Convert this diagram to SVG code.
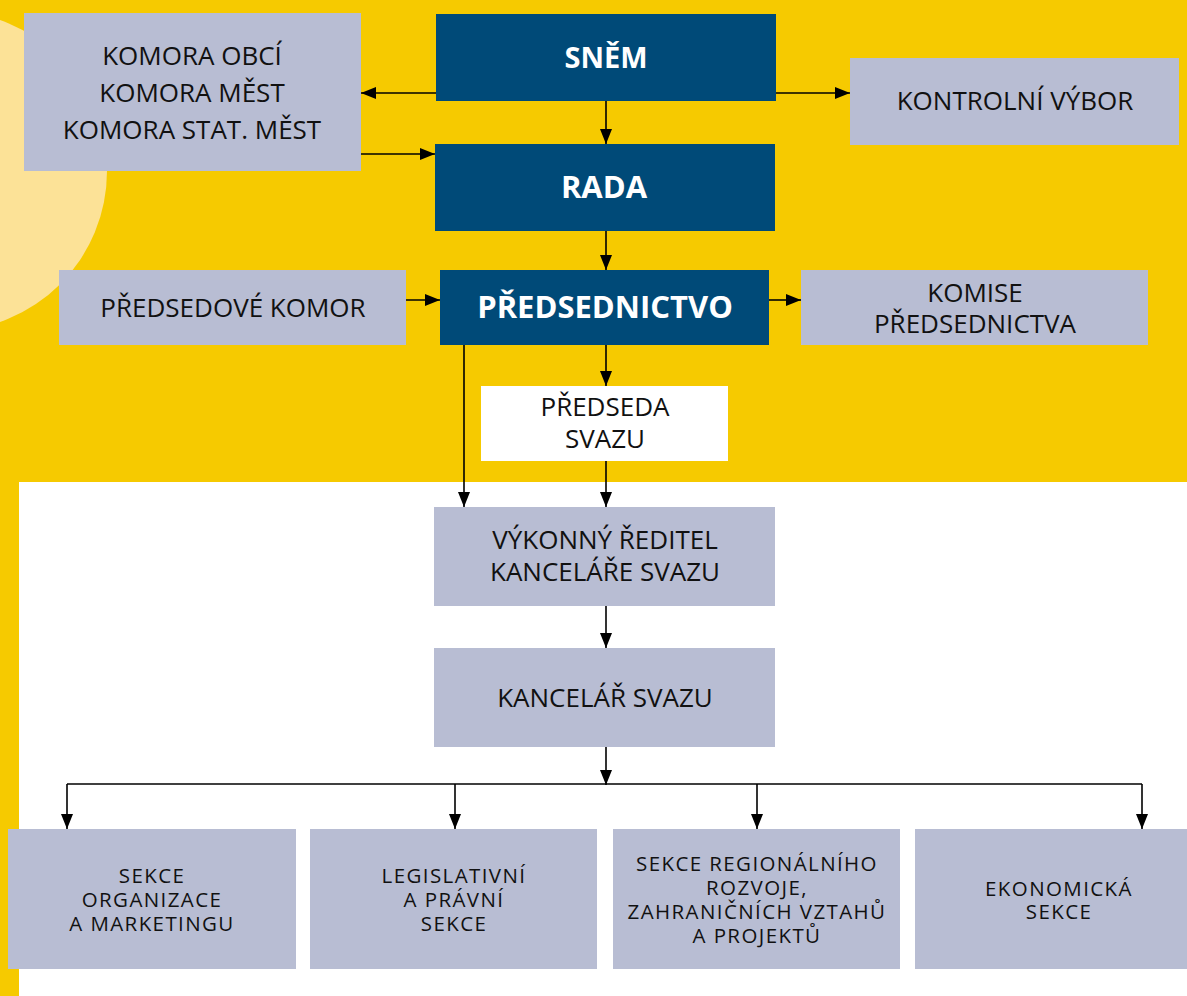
<svg xmlns="http://www.w3.org/2000/svg" width="1187" height="996" viewBox="0 0 1187 996">
<style>
.box{fill:#B8BDD3}
.dark{fill:#004A78}
.wbox{fill:#FFFFFF}
.t{font-family:"Open Sans","Liberation Sans",sans-serif;font-size:26px;fill:#111;text-anchor:middle}
.b{font-family:"Open Sans","Liberation Sans",sans-serif;font-size:30px;font-weight:bold;fill:#FFFFFF;text-anchor:middle}
.s{font-family:"Open Sans","Liberation Sans",sans-serif;font-size:20.5px;letter-spacing:1.4px;fill:#111;text-anchor:middle}
.c{stroke:#000;stroke-width:1.6;fill:none}
</style>
<defs>
<marker id="ah" markerUnits="userSpaceOnUse" markerWidth="15" markerHeight="12" refX="15" refY="6" orient="auto">
<path d="M0,0 L15,6 L0,12 z" fill="#000"/>
</marker>
</defs>
<rect x="0" y="0" width="1187" height="996" fill="#F6CA00"/>
<circle cx="-53" cy="171" r="160" fill="#FCE297"/>
<rect x="19" y="482" width="1168" height="514" fill="#FFFFFF"/>

<g id="komory"><rect class="box" x="24" y="13" width="337" height="158"/>
<text class="t" x="192" y="65">KOMORA OBCÍ</text>
<text class="t" x="192" y="102">KOMORA MĚST</text>
<text class="t" x="192" y="139">KOMORA STAT. MĚST</text></g>

<g id="snem"><rect class="dark" x="436" y="14" width="340" height="87"/>
<text class="b" x="606" y="68" style="font-size:29px">SNĚM</text></g>

<g id="kontrolni"><rect class="box" x="850" y="58" width="329" height="87"/>
<text class="t" x="1015" y="110">KONTROLNÍ VÝBOR</text></g>

<g id="rada"><rect class="dark" x="435" y="144" width="340" height="87"/>
<text class="b" x="604" y="198" style="font-size:31px">RADA</text></g>

<g id="predsedove"><rect class="box" x="59" y="270" width="347" height="75"/>
<text class="t" x="233" y="317">PŘEDSEDOVÉ KOMOR</text></g>

<g id="predsednictvo"><rect class="dark" x="440" y="270" width="329" height="75"/>
<text class="b" x="605" y="318" style="font-size:31px">PŘEDSEDNICTVO</text></g>

<g id="komise"><rect class="box" x="801" y="270" width="347" height="75"/>
<text class="t" x="975" y="302">KOMISE</text>
<text class="t" x="975" y="333">PŘEDSEDNICTVA</text></g>

<g id="predseda"><rect class="wbox" x="481" y="386" width="247" height="75"/>
<text class="t" x="605" y="416">PŘEDSEDA</text>
<text class="t" x="605" y="448">SVAZU</text></g>

<g id="vykonny"><rect class="box" x="434" y="507" width="341" height="99"/>
<text class="t" x="605" y="549">VÝKONNÝ ŘEDITEL</text>
<text class="t" x="605" y="581">KANCELÁŘE SVAZU</text></g>

<g id="kancelar"><rect class="box" x="434" y="648" width="341" height="99"/>
<text class="t" x="605" y="707">KANCELÁŘ SVAZU</text></g>

<g id="sekce1"><rect class="box" x="8" y="829" width="288" height="140"/>
<text class="s" x="152" y="883">SEKCE</text>
<text class="s" x="152" y="907">ORGANIZACE</text>
<text class="s" x="152" y="931">A MARKETINGU</text></g>

<g id="sekce2"><rect class="box" x="310" y="829" width="287" height="140"/>
<text class="s" x="454" y="883">LEGISLATIVNÍ</text>
<text class="s" x="454" y="907">A PRÁVNÍ</text>
<text class="s" x="454" y="931">SEKCE</text></g>

<g id="sekce3"><rect class="box" x="613" y="829" width="287" height="140"/>
<text class="s" x="757" y="871">SEKCE REGIONÁLNÍHO</text>
<text class="s" x="757" y="895">ROZVOJE,</text>
<text class="s" x="757" y="919">ZAHRANIČNÍCH VZTAHŮ</text>
<text class="s" x="757" y="943">A PROJEKTŮ</text></g>

<g id="sekce4"><rect class="box" x="915" y="829" width="272" height="140"/>
<text class="s" x="1059" y="896">EKONOMICKÁ</text>
<text class="s" x="1059" y="919">SEKCE</text></g>

<g id="connectors">
<line class="c" x1="436" y1="93" x2="361" y2="93" marker-end="url(#ah)"/>
<line class="c" x1="776" y1="93" x2="850" y2="93" marker-end="url(#ah)"/>
<line class="c" x1="361" y1="154" x2="435" y2="154" marker-end="url(#ah)"/>
<line class="c" x1="606" y1="101" x2="606" y2="144" marker-end="url(#ah)"/>
<line class="c" x1="606" y1="231" x2="606" y2="270" marker-end="url(#ah)"/>
<line class="c" x1="406" y1="300" x2="440" y2="300" marker-end="url(#ah)"/>
<line class="c" x1="769" y1="300" x2="801" y2="300" marker-end="url(#ah)"/>
<line class="c" x1="606" y1="345" x2="606" y2="386" marker-end="url(#ah)"/>
<line class="c" x1="464" y1="345" x2="464" y2="507" marker-end="url(#ah)"/>
<line class="c" x1="606" y1="461" x2="606" y2="507" marker-end="url(#ah)"/>
<line class="c" x1="606" y1="606" x2="606" y2="648" marker-end="url(#ah)"/>
<line class="c" x1="606" y1="747" x2="606" y2="785" marker-end="url(#ah)"/>
<line class="c" x1="67" y1="784" x2="1142" y2="784"/>
<line class="c" x1="67" y1="784" x2="67" y2="829" marker-end="url(#ah)"/>
<line class="c" x1="455" y1="784" x2="455" y2="829" marker-end="url(#ah)"/>
<line class="c" x1="757" y1="784" x2="757" y2="829" marker-end="url(#ah)"/>
<line class="c" x1="1142" y1="784" x2="1142" y2="829" marker-end="url(#ah)"/>
</g>
</svg>
